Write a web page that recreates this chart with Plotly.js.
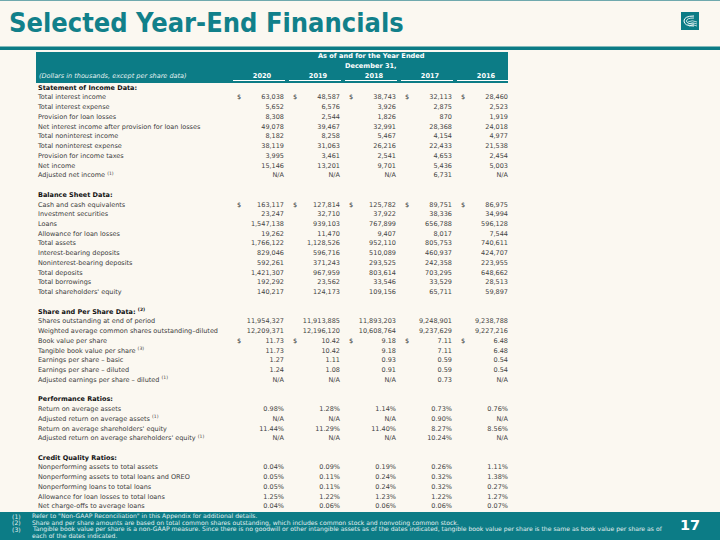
<!DOCTYPE html>
<html><head><meta charset="utf-8">
<script src="https://cdn.plot.ly/plotly-3.0.1.min.js"></script>
<style>html,body{margin:0;padding:0;background:#FBF8F1;}#chart{width:720px;height:540px;}</style>
</head><body><div id="chart"></div>
<script>
// ---------- DATA ----------
const years = ['2020', '2019', '2018', '2017', '2016'];
const sectionTitles = ['Statement of Income Data:', 'Balance Sheet Data:', 'Share and Per Share Data: <sup>(2)</sup>', 'Performance Ratios:', 'Credit Quality Ratios:'];
const incomeLabels = ['Total interest income', 'Total interest expense', 'Provision for loan losses', 'Net interest income after provision for loan losses', 'Total noninterest income', 'Total noninterest expense', 'Provision for income taxes', 'Net income', 'Adjusted net income <sup>(1)</sup>'];
const balanceLabels = ['Cash and cash equivalents', 'Investment securities', 'Loans', 'Allowance for loan losses', 'Total assets', 'Interest-bearing deposits', 'Noninterest-bearing deposits', 'Total deposits', 'Total borrowings', "Total shareholders' equity"];
const shareLabels = ['Shares outstanding at end of period', 'Weighted average common shares outstanding–diluted', 'Book value per share', 'Tangible book value per share <sup>(3)</sup>', 'Earnings per share – basic', 'Earnings per share – diluted', 'Adjusted earnings per share – diluted <sup>(1)</sup>'];
const ratioLabels = ['Return on average assets', 'Adjusted return on average assets <sup>(1)</sup>', "Return on average shareholders' equity", "Adjusted return on average shareholders' equity <sup>(1)</sup>"];
const creditLabels = ['Nonperforming assets to total assets', 'Nonperforming assets to total loans and OREO', 'Nonperforming loans to total loans', 'Allowance for loan losses to total loans', 'Net charge-offs to average loans'];
// row formats per section: int = thousands, dec = per-share, pct = percent
const sectionFormats = ['int', 'int', 'share', 'pct', 'pct'];
const shareFormats = ['int', 'int', 'dec', 'dec', 'dec', 'dec', 'dec'];
// rows that carry a "$" sign
const dollarLabels = ['Total interest income', 'Cash and cash equivalents', 'Book value per share'];
// values (null = N/A), in row order
const val2020 = [63038, 5652, 8308, 49078, 8182, 38119, 3995, 15146, null,
  163117, 23247, 1547138, 19262, 1766122, 829046, 592261, 1421307, 192292, 140217,
  11954327, 12209371, 11.73, 11.73, 1.27, 1.24, null,
  0.98, null, 11.44, null,
  0.04, 0.05, 0.05, 1.25, 0.04];
const val2019 = [48587, 6576, 2544, 39467, 8258, 31063, 3461, 13201, null,
  127814, 32710, 939103, 11470, 1128526, 596716, 371243, 967959, 23562, 124173,
  11913885, 12196120, 10.42, 10.42, 1.11, 1.08, null,
  1.28, null, 11.29, null,
  0.09, 0.11, 0.11, 1.22, 0.06];
const val2018 = [38743, 3926, 1826, 32991, 5467, 26216, 2541, 9701, null,
  125782, 37922, 767899, 9407, 952110, 510089, 293525, 803614, 33546, 109156,
  11893203, 10608764, 9.18, 9.18, 0.93, 0.91, null,
  1.14, null, 11.40, null,
  0.19, 0.24, 0.24, 1.23, 0.06];
const val2017 = [32113, 2875, 870, 28368, 4154, 22433, 4653, 5436, 6731,
  89751, 38336, 656788, 8017, 805753, 460937, 242358, 703295, 33529, 65711,
  9248901, 9237629, 7.11, 7.11, 0.59, 0.59, 0.73,
  0.73, 0.90, 8.27, 10.24,
  0.26, 0.32, 0.32, 1.22, 0.06];
const val2016 = [28460, 2523, 1919, 24018, 4977, 21538, 2454, 5003, null,
  86975, 34994, 596128, 7544, 740611, 424707, 223955, 648662, 28513, 59897,
  9238788, 9227216, 6.48, 6.48, 0.54, 0.54, null,
  0.76, null, 8.56, null,
  1.11, 1.38, 0.27, 1.27, 0.07];
const footnotes = [
  ['(1)', 'Refer to "Non-GAAP Reconciliation" in this Appendix for additional details.'],
  ['(2)', 'Share and per share amounts are based on total common shares outstanding, which includes common stock and nonvoting common stock.'],
  ['(3)', 'Tangible book value per share is a non-GAAP measure. Since there is no goodwill or other intangible assets as of the dates indicated, tangible book value per share is the same as book value per share as of'],
  ['', 'each of the dates indicated.']
];
const pageNumber = '17';

// ---------- LAYOUT CONSTANTS ----------
const TEAL = '#0C7C86';
const BG = '#FBF8F1';
const FONT = 'DejaVu Sans, Verdana, sans-serif';
const FS = 6.5;
const colRight = [284, 340, 396, 452, 508];
const dollarOffset = 47;
const labelX = 38;
const firstRowPx = 88, rowPx = 9.74;

// ---------- BUILD ROWS ----------
const sectionLabels = [incomeLabels, balanceLabels, shareLabels, ratioLabels, creditLabels];
const yearVals = [val2020, val2019, val2018, val2017, val2016];
const headRows = [], dataRows = [], dataLabels = [], dataFmt = [];
let r = 0;
sectionLabels.forEach((labs, s) => {
  headRows.push(r); r++;
  labs.forEach((l, i) => {
    dataRows.push(r); dataLabels.push(l);
    dataFmt.push(sectionFormats[s] === 'share' ? shareFormats[i] : sectionFormats[s]);
    r++;
  });
  r++;
});
function fmt(v, f) {
  if (v === null) return 'N/A';
  if (f === 'int') return v.toLocaleString('en-US');
  if (f === 'dec') return v.toFixed(2);
  return v.toFixed(2) + '%';
}
const traces = [];
const txt = (size, color) => ({family: FONT, size: size, color: color});
traces.push({type: 'scatter', mode: 'text', x: headRows.map(() => labelX), y: headRows,
  text: sectionTitles.map(t => '<b>' + t + '</b>'), textposition: 'middle right',
  textfont: txt(FS, '#111'), hoverinfo: 'skip', showlegend: false});
traces.push({type: 'scatter', mode: 'text', x: dataRows.map(() => labelX), y: dataRows,
  text: dataLabels, textposition: 'middle right',
  textfont: txt(FS, '#3c3c3c'), hoverinfo: 'skip', showlegend: false});
yearVals.forEach((vals, j) => {
  traces.push({type: 'scatter', mode: 'text', x: dataRows.map(() => colRight[j]), y: dataRows,
    text: vals.map((v, i) => fmt(v, dataFmt[i])), textposition: 'middle left',
    textfont: txt(FS, '#444'), hoverinfo: 'skip', showlegend: false});
  const dr = dataRows.filter((row, i) => dollarLabels.includes(dataLabels[i]));
  traces.push({type: 'scatter', mode: 'text', x: dr.map(() => colRight[j] - dollarOffset), y: dr,
    text: dr.map(() => '$'), textposition: 'middle right',
    textfont: txt(FS, '#444'), hoverinfo: 'skip', showlegend: false});
});
// years header (pixel axis y2)
traces.push({type: 'scatter', mode: 'text', x: colRight.map(x => x - 22), y: years.map(() => 76), yaxis: 'y2',
  text: years.map(y => '<b>' + y + '</b>'), textposition: 'middle center',
  textfont: txt(6.6, '#fff'), hoverinfo: 'skip', showlegend: false});

const rowTop = -firstRowPx / rowPx, rowBottom = (540 - firstRowPx) / rowPx;

const below = (s) => Object.assign({layer: 'below', xref: 'x', yref: 'y2'}, s);
const shapes = [
  below({type: 'rect', x0: 0, x1: 720, y0: 0, y1: 1, fillcolor: '#6FA9AE', line: {width: 0}}),
  below({type: 'rect', x0: 0, x1: 720, y0: 46.5, y1: 50, fillcolor: TEAL, line: {width: 0}}),
  below({type: 'rect', x0: 36, x1: 508, y0: 52, y1: 83, fillcolor: TEAL, line: {width: 0}}),
  below({type: 'rect', x0: 0, x1: 720, y0: 512, y1: 540, fillcolor: TEAL, line: {width: 0}}),
  // logo
  below({type: 'rect', x0: 681, x1: 699, y0: 12, y1: 30, fillcolor: TEAL, line: {width: 0}}),
  {type: 'path', xref: 'x', yref: 'y2', path: 'M 694 16 Q 684 16 684 21 Q 684 26 694 26', line: {color: '#fff', width: 1}},
  {type: 'path', xref: 'x', yref: 'y2', path: 'M 694 18 Q 686.5 18 686.5 21 Q 686.5 24 694 24', line: {color: '#fff', width: 0.8}},
  {type: 'path', xref: 'x', yref: 'y2', path: 'M 688 22 Q 692 19.5 697 22 M 688.5 24 Q 692.5 21.5 697 24 M 689 26 Q 693 23.5 697 26', line: {color: '#fff', width: 0.7}}
];
colRight.forEach(x => shapes.push(below({type: 'line', x0: x - 51, x1: x + 1, y0: 80.5, y1: 80.5, line: {color: '#fff', width: 1}})));

const annotations = [
  {xref: 'x', yref: 'y2', x: 7, y: 22.5, xanchor: 'left', yanchor: 'middle', showarrow: false,
    text: '<b>Selected Year-End Financials</b>', font: {family: 'DejaVu Sans Condensed, DejaVu Sans, sans-serif', size: 27, color: '#11808A'}},
  {xref: 'x', yref: 'y2', x: 371, y: 56, xanchor: 'center', yanchor: 'middle', showarrow: false,
    text: '<b>As of and for the Year Ended</b>', font: txt(6.6, '#fff')},
  {xref: 'x', yref: 'y2', x: 371, y: 66, xanchor: 'center', yanchor: 'middle', showarrow: false,
    text: '<b>December 31,</b>', font: txt(6.6, '#fff')},
  {xref: 'x', yref: 'y2', x: 37, y: 76, xanchor: 'left', yanchor: 'middle', showarrow: false,
    text: '<i>(Dollars in thousands, except per share data)</i>', font: txt(6.5, '#E6F2F2')},
  {xref: 'x', yref: 'y2', x: 690, y: 525, xanchor: 'center', yanchor: 'middle', showarrow: false,
    text: '<b>' + pageNumber + '</b>', font: {family: FONT, size: 14.5, color: '#fff'}}
];
footnotes.forEach((f, i) => {
  const y = 516.3 + i * 6.5;
  if (f[0]) annotations.push({xref: 'x', yref: 'y2', x: 10, y: y, xanchor: 'left', yanchor: 'middle', showarrow: false,
    text: f[0], font: txt(6.1, '#E3F0F0')});
  annotations.push({xref: 'x', yref: 'y2', x: 30, y: y, xanchor: 'left', yanchor: 'middle', showarrow: false,
    text: f[1], font: txt(6.1, '#E3F0F0')});
});

const axisOff = {showgrid: false, zeroline: false, showticklabels: false, ticks: '', showline: false, fixedrange: true};
const layout = {
  width: 720, height: 540, margin: {l: 0, r: 0, t: 0, b: 0, pad: 0},
  paper_bgcolor: BG, plot_bgcolor: BG, showlegend: false,
  xaxis: Object.assign({range: [0, 720], domain: [0, 1]}, axisOff),
  yaxis: Object.assign({range: [rowBottom, rowTop], domain: [0, 1]}, axisOff),
  yaxis2: Object.assign({range: [540, 0], overlaying: 'y', domain: [0, 1]}, axisOff),
  shapes: shapes, annotations: annotations
};
Plotly.newPlot('chart', traces, layout, {staticPlot: true, displayModeBar: false});
</script></body></html>
